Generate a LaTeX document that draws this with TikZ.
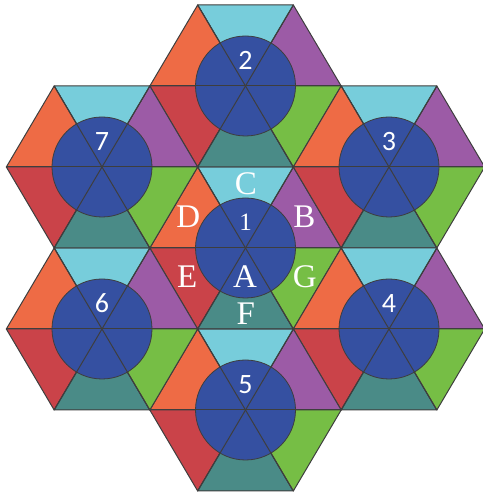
\documentclass[tikz,border=0pt]{standalone}
\usepackage{fontspec}
\setmainfont{Liberation Serif}
\newfontfamily\numfont{Carlito}
\usepackage{xcolor}
\definecolor{tricyan}{HTML}{77CDDB}
\definecolor{tripurple}{HTML}{9C5BA6}
\definecolor{trigreen}{HTML}{76BE45}
\definecolor{triteal}{HTML}{4A8B87}
\definecolor{trired}{HTML}{CA4349}
\definecolor{triorange}{HTML}{EE6B45}
\definecolor{discblue}{HTML}{3550A1}
\definecolor{edgeink}{HTML}{3E3E3E}

\begin{document}
\begin{tikzpicture}[x=1pt, y=1pt]
  % --- the constants everything else is derived from -----------------------
  \def\s{95.67}   % triangle side = hexagon circumradius
  \def\h{81}      % half height of one hexagon (image is a little squashed)
  \def\rc{50}     % radius of the blue disc
  \def\lo{25.5}   % lift of the hexagon number above its centre
  \pgfmathsetmacro{\ry}{\h/sin(60)}          % vertical radius, 93.53

  \tikzset{
    tri/.style={draw=edgeink, line width=1pt, line join=round},
    disc/.style={fill=discblue, draw=edgeink, line width=0.8pt},
    spoke/.style={draw=edgeink, line width=1pt},
    num/.style={text=white, inner sep=0pt, font=\numfont\fontsize{28}{28}\selectfont},
    letter/.style={text=white, inner sep=0pt, font=\fontsize{33}{33}\selectfont},
    centrenum/.style={text=white, inner sep=0pt, font=\fontsize{25}{25}\selectfont}}

  \useasboundingbox (0,0) rectangle (482,494);

  % ---- 1. the hexagon centres: one in the middle, six round it ------------
  \foreach \n/\i/\j in {1/0/0, 2/0/2, 3/1/1, 4/1/-1, 5/0/-2, 6/-1/-1, 7/-1/1}{
    \coordinate (h\n) at ({245.5+1.5*\s*\i},{246+\h*\j});}

  % ---- 2. six coloured triangles, the disc, the spokes over the disc ------
  \foreach \n in {1,...,7}{
    \begin{scope}[shift={(h\n)}]
      \foreach \k/\col in {0/tripurple,1/tricyan,2/triorange,3/trired,4/triteal,5/trigreen}{
        \path[tri, fill=\col] (0,0)
          -- ({\s*cos(60*\k)},{\ry*sin(60*\k)})
          -- ({\s*cos(60*\k+60)},{\ry*sin(60*\k+60)}) -- cycle;}
      \path[disc] (0,0) circle[radius=\rc];
      \foreach \a in {0,60,120}{
        \path[spoke] ({\s*cos(\a)},{\ry*sin(\a)}) -- ({-\s*cos(\a)},{-\ry*sin(\a)});}
      % the numbers: 1 is set in the serif, the others in the sans
      \ifnum\n=1
        \node[centrenum] (n\n) at (0,\lo) {\n};
      \else
        \node[num] (n\n) at (0,\lo) {\n};
      \fi
    \end{scope}}

  % ---- 3. the letters round the middle hexagon ----------------------------
  \foreach \t/\x/\y in {C/0.3/63.8, D/-57.2/31.3, B/58.8/31.3,
                        E/-58.2/-28.7, A/-0.5/-28.7, G/59.2/-28.7, F/0.2/-66}{
    \node[letter] (l\t) at ([shift={(\x,\y)}]h1) {\t};}
\end{tikzpicture}
\end{document}
